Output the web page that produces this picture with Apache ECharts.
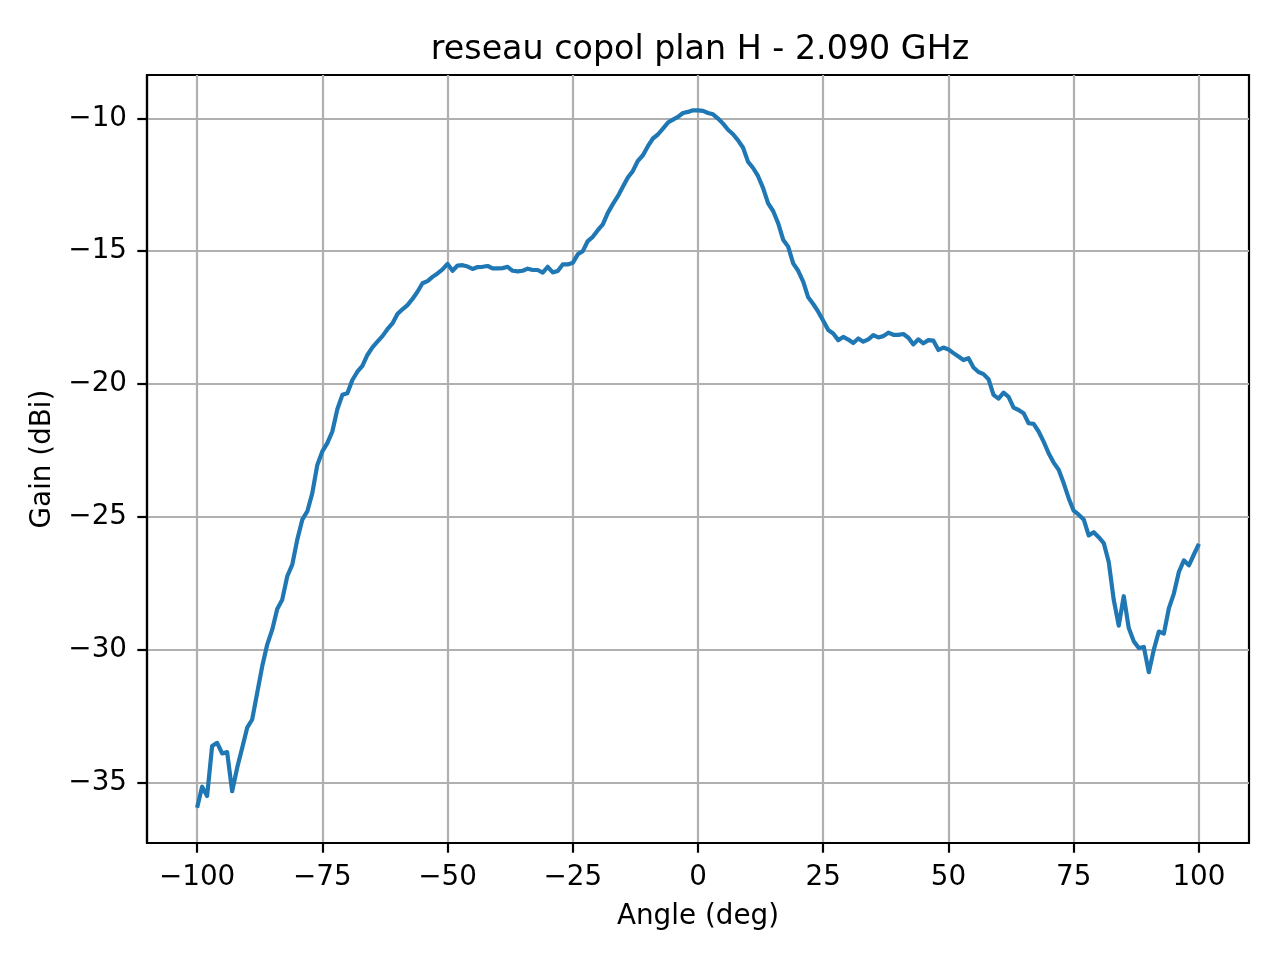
<!DOCTYPE html>
<html>
<head>
<meta charset="utf-8">
<script src="https://cdn.jsdelivr.net/npm/echarts@6/dist/echarts.min.js"></script>
<style>html,body{margin:0;padding:0;background:#fff}#c{width:1280px;height:960px}</style>
</head>
<body>
<div id="c"></div>
<script>
const titleText = 'reseau copol plan H - 2.090 GHz';
const xName = 'Angle (deg)';
const yName = 'Gain (dBi)';
const xTicks = [-100, -75, -50, -25, 0, 25, 50, 75, 100];
const yTicks = [-35, -30, -25, -20, -15, -10];
const angles = [
-100,-99,-98,-97,-96,-95,-94,-93,-92,-91,-90,-89,-88,-87,-86,-85,-84,-83,-82,-81,
-80,-79,-78,-77,-76,-75,-74,-73,-72,-71,-70,-69,-68,-67,-66,-65,-64,-63,-62,-61,
-60,-59,-58,-57,-56,-55,-54,-53,-52,-51,-50,-49,-48,-47,-46,-45,-44,-43,-42,-41,
-40,-39,-38,-37,-36,-35,-34,-33,-32,-31,-30,-29,-28,-27,-26,-25,-24,-23,-22,-21,
-20,-19,-18,-17,-16,-15,-14,-13,-12,-11,-10,-9,-8,-7,-6,-5,-4,-3,-2,-1,
0,1,2,3,4,5,6,7,8,9,10,11,12,13,14,15,16,17,18,19,
20,21,22,23,24,25,26,27,28,29,30,31,32,33,34,35,36,37,38,39,
40,41,42,43,44,45,46,47,48,49,50,51,52,53,54,55,56,57,58,59,
60,61,62,63,64,65,66,67,68,69,70,71,72,73,74,75,76,77,78,79,
80,81,82,83,84,85,86,87,88,89,90,91,92,93,94,95,96,97,98,99,100
];
const gain = [
-35.95,-35.16,-35.51,-33.63,-33.51,-33.91,-33.86,-35.33,-34.45,-33.70,
-32.94,-32.63,-31.63,-30.63,-29.81,-29.25,-28.47,-28.12,-27.24,-26.80,
-25.86,-25.11,-24.80,-24.11,-23.05,-22.54,-22.23,-21.79,-20.95,-20.41,
-20.35,-19.85,-19.54,-19.32,-18.91,-18.62,-18.41,-18.20,-17.94,-17.72,
-17.37,-17.19,-17.03,-16.80,-16.53,-16.21,-16.13,-15.97,-15.84,-15.69,
-15.48,-15.74,-15.54,-15.53,-15.58,-15.67,-15.60,-15.59,-15.56,-15.65,
-15.65,-15.64,-15.59,-15.74,-15.76,-15.74,-15.66,-15.71,-15.71,-15.81,
-15.59,-15.80,-15.75,-15.50,-15.50,-15.44,-15.12,-15.00,-14.62,-14.46,
-14.21,-13.99,-13.56,-13.23,-12.93,-12.58,-12.23,-11.98,-11.60,-11.39,
-11.05,-10.76,-10.61,-10.39,-10.16,-10.05,-9.95,-9.80,-9.76,-9.70,
-9.70,-9.72,-9.80,-9.85,-10.01,-10.20,-10.43,-10.60,-10.83,-11.11,
-11.64,-11.87,-12.18,-12.63,-13.20,-13.49,-13.95,-14.57,-14.83,-15.46,
-15.74,-16.15,-16.74,-16.99,-17.28,-17.62,-17.97,-18.10,-18.35,-18.23,
-18.33,-18.46,-18.29,-18.41,-18.32,-18.16,-18.25,-18.20,-18.07,-18.15,
-18.15,-18.12,-18.26,-18.51,-18.32,-18.47,-18.35,-18.37,-18.72,-18.63,
-18.70,-18.84,-18.97,-19.10,-19.03,-19.38,-19.55,-19.63,-19.82,-20.41,
-20.55,-20.33,-20.49,-20.89,-20.98,-21.10,-21.48,-21.50,-21.79,-22.17,
-22.61,-22.96,-23.23,-23.73,-24.30,-24.77,-24.92,-25.10,-25.70,-25.58,
-25.77,-25.99,-26.70,-28.13,-29.10,-27.99,-29.19,-29.69,-29.94,-29.90,
-30.85,-30.00,-29.32,-29.40,-28.45,-27.89,-27.08,-26.64,-26.83,-26.42,
-26.02
];

const seriesData = angles.map((a, i) => [a, gain[i]]);
const fmt = v => (v < 0 ? '\u2212' + Math.abs(v) : String(v));
const FONT = 'DejaVu Sans';
const lineW = 2.2;

const chart = echarts.init(document.getElementById('c'), null, {renderer: 'canvas'});
chart.setOption({
  animation: false,
  backgroundColor: '#ffffff',
  title: {
    text: titleText,
    left: 695,
    textAlign: 'center',
    top: 29,
    textStyle: {fontFamily: FONT, fontSize: 33.3, fontWeight: 'normal', color: '#000'}
  },
  grid: {
    left: 147, right: 31, top: 75, bottom: 117,
    show: true, borderColor: '#000', borderWidth: lineW, backgroundColor: 'transparent'
  },
  xAxis: {
    type: 'value',
    min: -110, max: 110,
    name: xName,
    nameLocation: 'middle',
    nameGap: 60,
    nameTextStyle: {fontFamily: FONT, fontSize: 27.8, color: '#000'},
    axisLine: {show: true, onZero: false, lineStyle: {color: '#000', width: lineW}},
    axisTick: {show: true, customValues: xTicks, length: 9.7, inside: false, lineStyle: {color: '#000', width: lineW}},
    axisLabel: {customValues: xTicks, formatter: fmt, margin: 21, fontFamily: FONT, fontSize: 27.8, color: '#000'},
    splitLine: {show: true, customValues: xTicks, lineStyle: {color: '#b0b0b0', width: lineW}}
  },
  yAxis: {
    type: 'value',
    min: -37.28, max: -8.37,
    name: yName,
    nameLocation: 'middle',
    nameGap: 90,
    nameTextStyle: {fontFamily: FONT, fontSize: 27.8, color: '#000'},
    axisLine: {show: true, onZero: false, lineStyle: {color: '#000', width: lineW}},
    axisTick: {show: true, customValues: yTicks, length: 9.7, inside: false, lineStyle: {color: '#000', width: lineW}},
    axisLabel: {customValues: yTicks, formatter: fmt, margin: 20, fontFamily: FONT, fontSize: 27.8, color: '#000'},
    splitLine: {show: true, customValues: yTicks, lineStyle: {color: '#b0b0b0', width: lineW}}
  },
  series: [{
    type: 'line',
    data: seriesData,
    showSymbol: false,
    symbol: 'none',
    lineStyle: {color: '#1f77b4', width: 4.2, join: 'round', cap: 'butt'},
    z: 3
  }]
});
</script>
</body>
</html>
